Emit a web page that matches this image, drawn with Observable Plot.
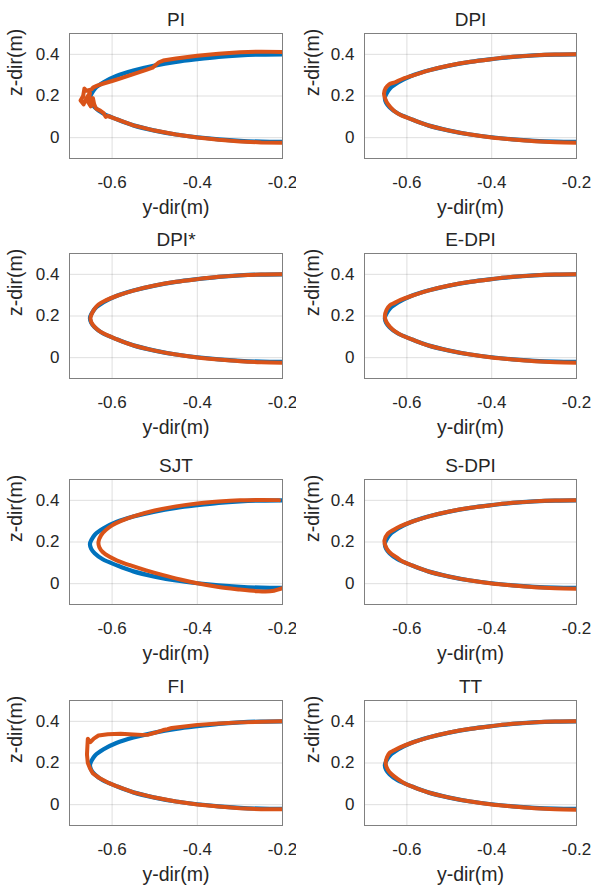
<!DOCTYPE html>
<html><head><meta charset="utf-8">
<script src="https://cdn.jsdelivr.net/npm/d3@7"></script>
<script src="https://cdn.jsdelivr.net/npm/@observablehq/plot@0.6"></script>
<style>
body{margin:0;background:#fff}
#wrap{position:relative;width:592px;height:889px;overflow:hidden}
#wrap svg{position:absolute;}
</style></head><body><div id="wrap"></div>
<script>
const xTicks = [-0.6, -0.4, -0.2];
const yTicks = [0, 0.2, 0.4];
const titles = ["PI", "DPI", "DPI*", "E-DPI", "SJT", "S-DPI", "FI", "TT"];
const xLabel = "y-dir(m)";
const yLabel = "z-dir(m)";

// reference (blue) trajectory
const refY = [-0.20, -0.25, -0.30, -0.35, -0.40, -0.45, -0.50, -0.55, -0.59, -0.62, -0.64, -0.648, -0.652, -0.649, -0.641, -0.622, -0.59, -0.55, -0.50, -0.45, -0.40, -0.35, -0.30, -0.25, -0.20];
const refZ = [0.400, 0.399, 0.395, 0.388, 0.377, 0.364, 0.346, 0.322, 0.296, 0.266, 0.236, 0.212, 0.190, 0.167, 0.146, 0.117, 0.089, 0.059, 0.034, 0.015, 0.002, -0.008, -0.015, -0.019, -0.020];

// tracked (orange) trajectories
const piY = [-0.20, -0.25, -0.30, -0.35, -0.40, -0.45, -0.48, -0.49, -0.497, -0.505, -0.52, -0.55, -0.58, -0.60, -0.62, -0.635, -0.645, -0.648, -0.66, -0.665, -0.668, -0.674, -0.667, -0.66, -0.652, -0.656, -0.65, -0.645, -0.642, -0.638, -0.628, -0.62, -0.615, -0.61, -0.59, -0.55, -0.50, -0.45, -0.40, -0.35, -0.30, -0.25, -0.20];
const piZ = [0.411, 0.413, 0.410, 0.403, 0.393, 0.380, 0.370, 0.362, 0.350, 0.336, 0.325, 0.305, 0.285, 0.272, 0.260, 0.250, 0.240, 0.232, 0.225, 0.236, 0.200, 0.178, 0.160, 0.190, 0.215, 0.170, 0.150, 0.190, 0.160, 0.140, 0.130, 0.118, 0.100, 0.104, 0.089, 0.059, 0.034, 0.015, 0.001, -0.010, -0.018, -0.023, -0.024];

const dpiY = [-0.20, -0.25, -0.30, -0.35, -0.40, -0.45, -0.50, -0.55, -0.59, -0.615, -0.628, -0.642, -0.650, -0.654, -0.651, -0.645, -0.630, -0.612, -0.59, -0.55, -0.50, -0.45, -0.40, -0.35, -0.30, -0.25, -0.20];
const dpiZ = [0.400, 0.399, 0.395, 0.388, 0.377, 0.364, 0.346, 0.322, 0.296, 0.278, 0.266, 0.256, 0.238, 0.212, 0.186, 0.162, 0.128, 0.106, 0.089, 0.059, 0.034, 0.015, 0.001, -0.009, -0.017, -0.022, -0.024];

const dpisY = [-0.20, -0.25, -0.30, -0.35, -0.40, -0.45, -0.50, -0.55, -0.59, -0.615, -0.632, -0.642, -0.651, -0.646, -0.636, -0.622, -0.59, -0.55, -0.50, -0.45, -0.40, -0.35, -0.30, -0.25, -0.20];
const dpisZ = [0.400, 0.399, 0.395, 0.388, 0.377, 0.364, 0.346, 0.322, 0.296, 0.275, 0.255, 0.232, 0.188, 0.160, 0.138, 0.118, 0.089, 0.059, 0.034, 0.015, 0.001, -0.009, -0.017, -0.022, -0.024];

const edpiY = [-0.20, -0.25, -0.30, -0.35, -0.40, -0.45, -0.50, -0.55, -0.59, -0.615, -0.630, -0.640, -0.648, -0.652, -0.648, -0.640, -0.628, -0.61, -0.59, -0.55, -0.50, -0.45, -0.40, -0.35, -0.30, -0.25, -0.20];
const edpiZ = [0.400, 0.399, 0.395, 0.388, 0.377, 0.364, 0.346, 0.322, 0.296, 0.277, 0.262, 0.252, 0.230, 0.198, 0.170, 0.148, 0.126, 0.105, 0.089, 0.059, 0.034, 0.015, 0.001, -0.009, -0.017, -0.022, -0.024];

const sjtY = [-0.208, -0.25, -0.30, -0.35, -0.40, -0.45, -0.50, -0.55, -0.58, -0.60, -0.615, -0.626, -0.632, -0.630, -0.622, -0.607, -0.588, -0.56, -0.52, -0.48, -0.44, -0.40, -0.35, -0.30, -0.26, -0.24, -0.22, -0.20];
const sjtZ = [0.401, 0.402, 0.400, 0.394, 0.385, 0.371, 0.351, 0.323, 0.300, 0.280, 0.257, 0.232, 0.200, 0.175, 0.152, 0.130, 0.111, 0.090, 0.064, 0.041, 0.020, 0.002, -0.016, -0.028, -0.036, -0.038, -0.034, -0.022];

const sdpiY = [-0.20, -0.25, -0.30, -0.35, -0.40, -0.45, -0.50, -0.55, -0.59, -0.615, -0.632, -0.645, -0.653, -0.650, -0.643, -0.636, -0.625, -0.61, -0.59, -0.55, -0.50, -0.45, -0.40, -0.35, -0.30, -0.25, -0.20];
const sdpiZ = [0.400, 0.399, 0.395, 0.388, 0.377, 0.364, 0.346, 0.322, 0.296, 0.276, 0.258, 0.240, 0.207, 0.178, 0.155, 0.142, 0.127, 0.106, 0.089, 0.059, 0.034, 0.015, 0.001, -0.009, -0.017, -0.022, -0.024];

const fiY = [-0.20, -0.25, -0.30, -0.35, -0.40, -0.44, -0.46, -0.47, -0.48, -0.50, -0.515, -0.53, -0.55, -0.58, -0.61, -0.632, -0.643, -0.651, -0.657, -0.658, -0.659, -0.657, -0.652, -0.645, -0.63, -0.61, -0.59, -0.55, -0.50, -0.45, -0.40, -0.35, -0.30, -0.25, -0.20];
const fiZ = [0.400, 0.398, 0.395, 0.390, 0.383, 0.373, 0.368, 0.362, 0.358, 0.345, 0.336, 0.335, 0.337, 0.340, 0.338, 0.332, 0.317, 0.300, 0.316, 0.280, 0.240, 0.200, 0.175, 0.150, 0.128, 0.106, 0.089, 0.059, 0.034, 0.015, 0.001, -0.009, -0.017, -0.022, -0.022];

const ttY = [-0.20, -0.25, -0.30, -0.35, -0.40, -0.45, -0.50, -0.55, -0.59, -0.615, -0.630, -0.640, -0.647, -0.650, -0.645, -0.636, -0.622, -0.605, -0.59, -0.55, -0.50, -0.45, -0.40, -0.35, -0.30, -0.25, -0.20];
const ttZ = [0.400, 0.399, 0.395, 0.388, 0.377, 0.364, 0.346, 0.322, 0.296, 0.276, 0.261, 0.250, 0.228, 0.196, 0.168, 0.146, 0.124, 0.102, 0.089, 0.059, 0.034, 0.015, 0.001, -0.009, -0.017, -0.022, -0.024];

const tracked = [[piY, piZ], [dpiY, dpiZ], [dpisY, dpisZ], [edpiY, edpiZ], [sjtY, sjtZ], [sdpiY, sdpiZ], [fiY, fiZ], [ttY, ttZ]];
const jagged = ["PI", "FI"];

const wrap = document.getElementById("wrap");
const frameTops = [33, 253, 479, 700];
const FONT = "'Liberation Sans', Arial, Helvetica, sans-serif";
const toRows = (Y, Z) => Y.map((y, i) => ({y, z: Z[i]}));
const ref = toRows(refY, refZ);

titles.forEach((title, k) => {
  const col = k % 2, row = Math.floor(k / 2);
  const W = 296, H = 222, mt = 33, mb = H - 33 - 125;
  const ml = col === 0 ? 69 : 68, mr = col === 0 ? 14 : 16;
  const trk = toRows(tracked[k][0], tracked[k][1]);
  const svg = Plot.plot({
    width: W, height: H,
    marginTop: mt, marginBottom: mb, marginLeft: ml, marginRight: mr,
    x: {domain: [-0.7, -0.2]},
    y: {domain: [-0.1, 0.5]},
    style: {fontFamily: FONT, fontSize: "17px", color: "#262626", background: "white"},
    marks: [
      Plot.gridX(xTicks, {stroke: "#000", strokeOpacity: 0.13}),
      Plot.gridY(yTicks, {stroke: "#000", strokeOpacity: 0.13}),
      Plot.line(ref, {x: "y", y: "z", stroke: "#0072BD", strokeWidth: 4.2, curve: "catmull-rom", clip: true}),
      Plot.line(trk, {x: "y", y: "z", stroke: "#D95319", strokeWidth: 4,
        curve: jagged.includes(title) ? "linear" : "catmull-rom", strokeLinejoin: "round", clip: true}),
      Plot.frame({stroke: "#808080"}),
      Plot.axisX({ticks: xTicks, tickSize: 0, tickPadding: 17, tickFormat: d => String(d), label: null}),
      Plot.axisY({ticks: yTicks, tickSize: 0, tickPadding: 10, tickFormat: d => String(d), label: null}),
      Plot.text([title], {text: d => d, frameAnchor: "top", lineAnchor: "bottom", dy: -8, fontSize: 19, fill: "#262626"}),
      Plot.text([xLabel], {text: d => d, frameAnchor: "bottom", lineAnchor: "bottom", dy: 55, fontSize: 19.5, fill: "#262626"}),
      Plot.text([yLabel], {text: d => d, frameAnchor: "left", lineAnchor: "middle", rotate: -90, dx: col === 0 ? -54 : -52, fontSize: 19.5, fill: "#262626"})
    ]
  });
  svg.style.left = (col * 296) + "px";
  svg.style.top = (frameTops[row] - mt) + "px";
  wrap.appendChild(svg);
});
</script>
</body></html>
